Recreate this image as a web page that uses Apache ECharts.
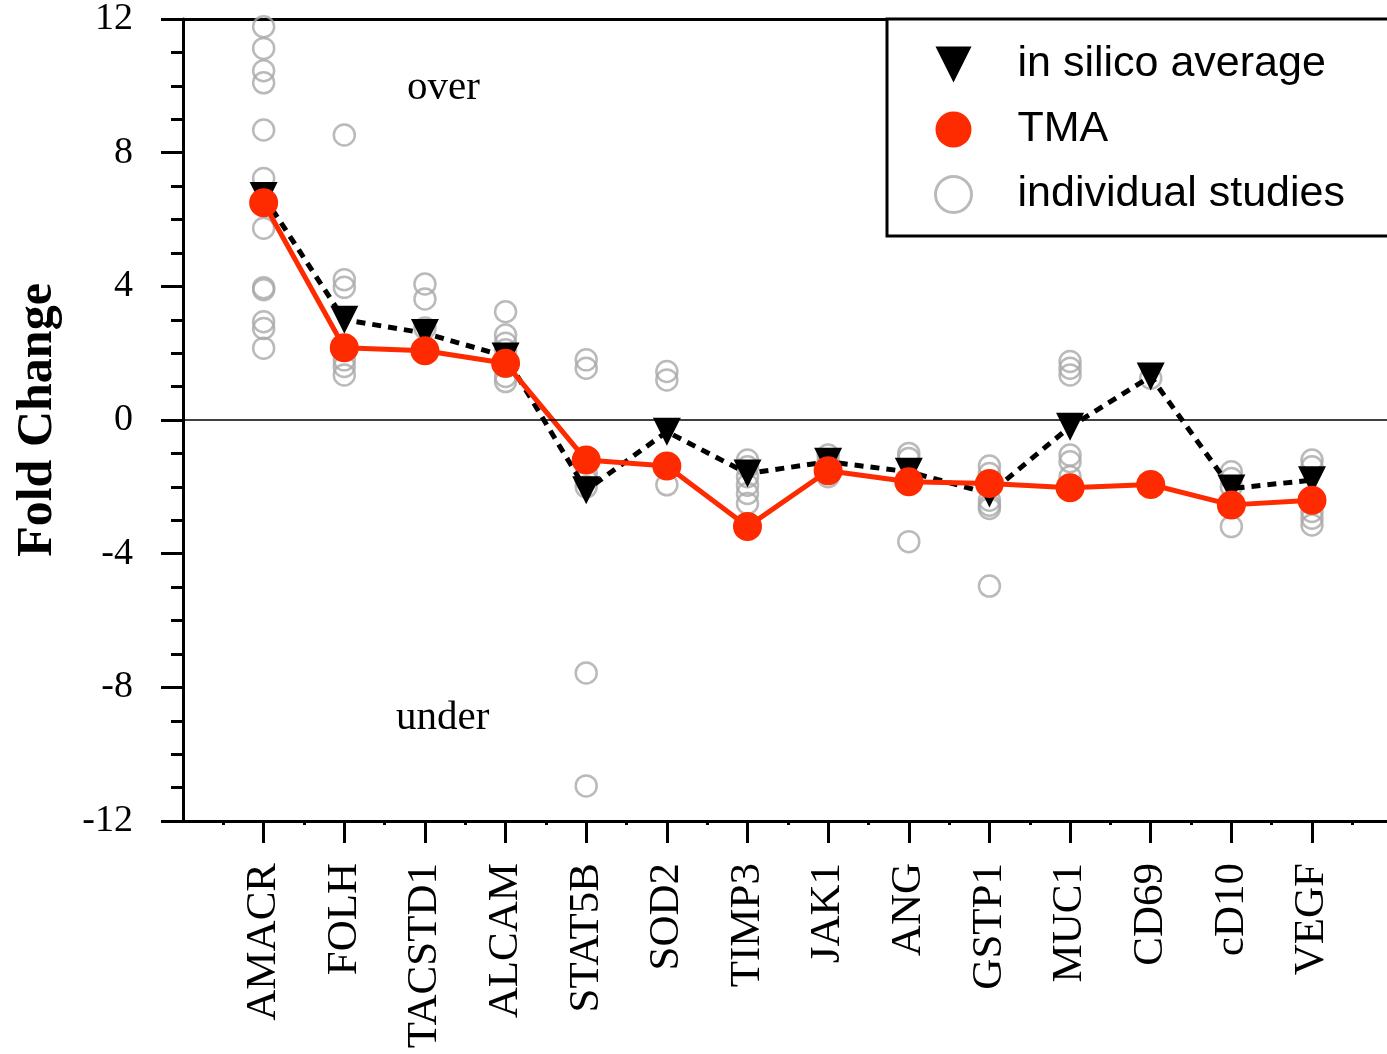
<!DOCTYPE html>
<html>
<head>
<meta charset="utf-8">
<title>Fold Change</title>
<script src="https://cdn.jsdelivr.net/npm/echarts@6/dist/echarts.min.js"></script>
<style>
  html, body { margin: 0; padding: 0; background: #fff; }
  #chart { width: 1387px; height: 1054px; }
</style>
</head>
<body>
<div id="chart"></div>
<script>
// Genes, in plotting order (x positions 1..14)
const categories = ['AMACR', 'FOLH', 'TACSTD1', 'ALCAM', 'STAT5B', 'SOD2', 'TIMP3',
                    'JAK1', 'ANG', 'GSTP1', 'MUC1', 'CD69', 'cD10', 'VEGF'];

// Average fold change across in silico studies
const inSilicoAverage = [6.7, 3.0, 2.6, 1.9, -2.1, -0.35, -1.6, -1.25, -1.55, -2.2, -0.2, 1.3, -2.05, -1.8];

// Fold change measured on the tissue microarray
const tmaValues = [6.5, 2.16, 2.07, 1.7, -1.2, -1.38, -3.19, -1.52, -1.85, -1.9, -2.03, -1.93, -2.54, -2.4];

// Fold change reported by each individual study, per gene
const individualStudies = [
  [11.77, 11.12, 10.45, 10.09, 8.68, 7.23, 5.74, 3.96, 3.9, 2.94, 2.74, 2.15],
  [8.53, 4.2, 3.97, 1.8, 1.6, 1.35],
  [4.07, 3.62, 2.75, 2.0],
  [3.24, 2.54, 2.3, 2.1, 1.6, 1.3, 1.15],
  [1.8, 1.55, -1.6, -1.8, -2.0, -7.57, -10.95],
  [1.45, 1.2, -1.94],
  [-1.2, -1.4, -1.7, -1.95, -2.2, -2.5],
  [-1.05, -1.25, -1.7],
  [-1.0, -1.15, -3.64],
  [-1.38, -1.6, -2.4, -2.55, -2.65, -4.97],
  [1.75, 1.55, 1.35, -1.05, -1.25, -1.7],
  [1.25],
  [-1.55, -1.75, -2.0, -3.19],
  [-1.2, -1.4, -2.74, -2.94, -3.14]
];

// Y axis tick values
const yTicks = [-12, -8, -4, 0, 4, 8, 12];

const seriesNames = ['in silico average', 'TMA', 'individual studies'];

const positions = categories.map((_, i) => i + 1);
const avgData = inSilicoAverage.map((v, i) => [positions[i], v]);
const tmaData = tmaValues.map((v, i) => [positions[i], v]);
const studyData = [];
individualStudies.forEach((vals, i) => vals.forEach(v => studyData.push([positions[i], v])));

const SERIF = '"Liberation Serif", "Times New Roman", serif';
const SANS = '"Liberation Sans", Arial, sans-serif';
const RED = '#fe2b00';
const GREY = '#a9a9a9';
const DOWN_TRIANGLE = 'path://M0,0 L10,0 L5,10 Z';
const X_MAX = 14.93;   // the frame runs on past the last gene and is cut by the page edge

const chart = echarts.init(document.getElementById('chart'), null, { renderer: 'canvas' });

chart.setOption({
  animation: false,
  backgroundColor: '#fff',
  grid: { left: 183, right: 0, top: 19, bottom: 233, containLabel: false },
  xAxis: [
    {
      type: 'value',
      min: 0,
      max: X_MAX,
      interval: 1,
      splitLine: { show: false },
      axisLine: { show: true, onZero: false, lineStyle: { color: '#000', width: 3 } },
      axisTick: { show: true, customValues: positions, length: 22, inside: false,
                  lineStyle: { color: '#000', width: 3 } },
      minorTick: { show: true, splitNumber: 2, length: 4, lineStyle: { color: '#000', width: 3 } },
      axisLabel: {
        customValues: positions,
        rotate: 90,
        margin: 42,
        fontFamily: SERIF,
        fontSize: 43,
        color: '#000',
        formatter: v => categories[v - 1] || ''
      }
    },
    {
      type: 'value',
      position: 'top',
      min: 0,
      max: X_MAX,
      splitLine: { show: false },
      axisLine: { show: true, onZero: false, lineStyle: { color: '#000', width: 3 } },
      axisTick: { show: false },
      axisLabel: { show: false }
    }
  ],
  yAxis: {
    type: 'value',
    min: -12,
    max: 12,
    interval: 4,
    name: 'Fold Change',
    nameLocation: 'middle',
    nameRotate: 90,
    nameGap: 120,
    nameTextStyle: { fontFamily: SERIF, fontSize: 50, fontWeight: 'bold', color: '#000' },
    splitLine: { show: false },
    axisLine: { show: true, onZero: false, lineStyle: { color: '#000', width: 3 } },
    axisTick: { show: true, length: 22, inside: false, lineStyle: { color: '#000', width: 3 } },
    minorTick: { show: true, splitNumber: 4, length: 12, lineStyle: { color: '#000', width: 3 } },
    axisLabel: {
      margin: 50,
      fontFamily: SERIF,
      fontSize: 38,
      color: '#000',
      customValues: yTicks,
      formatter: v => String(v)
    }
  },
  legend: {
    orient: 'vertical',
    left: 934,
    top: 43,
    padding: 0,
    itemWidth: 118,
    itemHeight: 36,
    itemGap: 22,
    selectedMode: false,
    textStyle: { fontFamily: SANS, fontSize: 43, color: '#000', lineHeight: 42 },
    data: [
      { name: seriesNames[0], icon: DOWN_TRIANGLE, itemStyle: { color: '#000' } },
      { name: seriesNames[1], icon: 'circle', itemStyle: { color: RED } },
      { name: seriesNames[2], icon: 'circle',
        itemStyle: { color: 'rgba(0,0,0,0)', borderColor: GREY, borderWidth: 3 } }
    ]
  },
  graphic: [
    // frame around the legend, running off the right edge
    { type: 'rect', z: 1, silent: true,
      shape: { x: 887, y: 19, width: 600, height: 217 },
      style: { fill: '#fff', stroke: '#000', lineWidth: 3 } },
    { type: 'text', left: 407, top: 68,
      style: { text: 'over', font: '41px ' + SERIF, fill: '#000' } },
    { type: 'text', left: 396, top: 698,
      style: { text: 'under', font: '41px ' + SERIF, fill: '#000' } }
  ],
  series: [
    {
      name: seriesNames[2],
      type: 'scatter',
      z: 2,
      data: studyData,
      symbol: 'circle',
      symbolSize: 21,
      itemStyle: { color: 'rgba(0,0,0,0)', borderColor: GREY, borderWidth: 2.5 },
      markLine: {
        silent: true,
        symbol: 'none',
        label: { show: false },
        lineStyle: { color: '#000', width: 1.5, type: 'solid' },
        data: [{ yAxis: 0 }]
      }
    },
    {
      name: seriesNames[0],
      type: 'line',
      z: 3,
      data: avgData,
      symbol: DOWN_TRIANGLE,
      symbolSize: 28,
      itemStyle: { color: '#000' },
      lineStyle: { color: '#000', width: 5, type: [9, 7] }
    },
    {
      name: seriesNames[1],
      type: 'line',
      z: 4,
      data: tmaData,
      symbol: 'circle',
      symbolSize: 29,
      itemStyle: { color: RED },
      lineStyle: { color: RED, width: 5 }
    }
  ]
});
</script>
</body>
</html>
